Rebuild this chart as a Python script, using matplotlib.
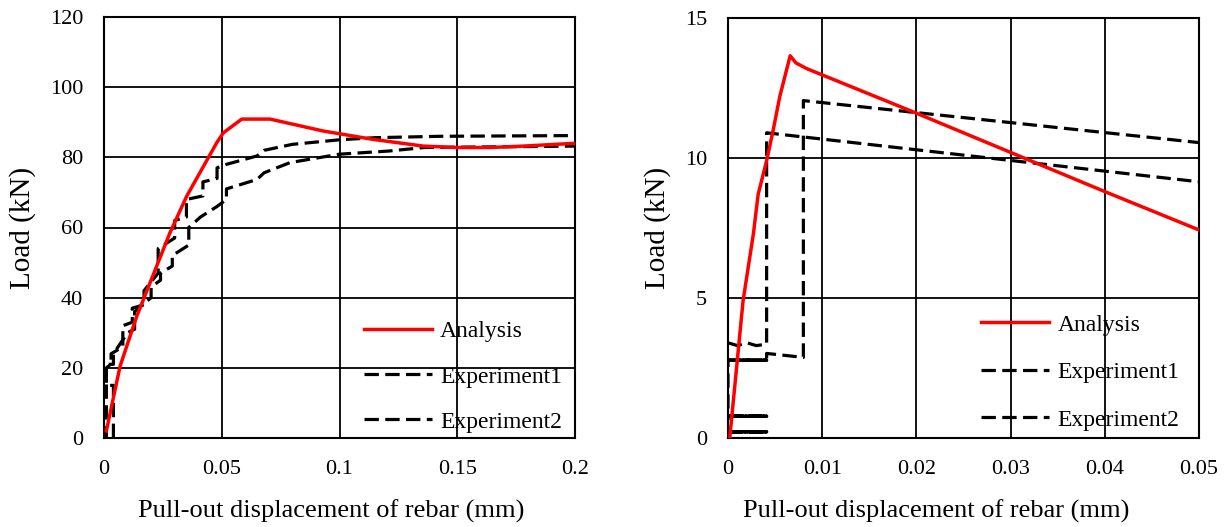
#!/usr/bin/env python3
import matplotlib
matplotlib.use('Agg')
import matplotlib.pyplot as plt

plt.rcParams['font.family'] = ['Liberation Serif', 'DejaVu Serif']

# left: pull-out test, load up to ~90 kN
ana_x1 = [0.001, 0.0068, 0.0139, 0.028, 0.0351, 0.0479, 0.0507, 0.0585, 0.0705,
          0.0931, 0.1144, 0.1356, 0.1498, 0.164, 0.178, 0.2]
ana_y1 = [2, 20.4, 34.7, 58.5, 68.9, 84.2, 87, 90.9, 90.9,
          87.5, 85.1, 83.2, 82.8, 82.8, 83.2, 84]

exp1_x1 = [0, 0.001, 0.001, 0.003, 0.003, 0.008, 0.008, 0.012, 0.012, 0.017, 0.017,
           0.023, 0.023, 0.030, 0.030, 0.035, 0.035, 0.042, 0.042, 0.048, 0.048,
           0.052, 0.065, 0.068, 0.08, 0.10, 0.115, 0.143, 0.2]
exp1_y1 = [0, 0, 20, 21, 24, 26, 32, 33, 37, 38, 42,
           47, 54, 57, 62, 63, 68, 69, 73, 74, 77,
           78, 80.4, 82, 83.7, 85, 85.6, 86, 86.2]

exp2_x1 = [0.004, 0.004, 0.001, 0.001, 0.004, 0.004, 0.010, 0.013, 0.013, 0.020,
           0.020, 0.024, 0.024, 0.029, 0.029, 0.036, 0.036, 0.041, 0.048, 0.052,
           0.052, 0.065, 0.068, 0.079, 0.100, 0.121, 0.136, 0.2]
exp2_y1 = [0, 15, 15, 21, 21, 24, 30, 31, 36, 40,
           43, 45, 47, 49, 52, 55, 60, 63, 66, 68,
           71, 73.7, 75.6, 78.5, 80.9, 81.8, 82.8, 83.2]

# right: load up to ~14 kN
ana_x2 = [0.0002, 0.0016, 0.0027, 0.0032, 0.0041, 0.0048, 0.0055, 0.0066, 0.0072,
          0.0083, 0.020, 0.030, 0.040, 0.05]
ana_y2 = [0.05, 4.9, 7.3, 8.7, 9.9, 11.0, 12.2, 13.65, 13.4,
          13.2, 11.6, 10.2, 8.8, 7.43]

exp1_x2 = [0, 0.0041, 0, 0.0041, 0, 0, 0.0041, 0, 0.0041, 0, 0, 0.0041, 0, 0.0041,
           0.0041, 0.008, 0.008, 0.05]
exp1_y2 = [0.22, 0.22, 0.22, 0.22, 0.22, 0.78, 0.78, 0.78, 0.78, 0.78, 2.78, 2.78, 2.78, 2.78,
           3.02, 2.88, 12.05, 10.55]

exp2_x2 = [0, 0.001, 0.002, 0.003, 0.0041, 0.0041, 0.05]
exp2_y2 = [3.4, 3.3, 3.4, 3.3, 3.35, 10.9, 9.15]

fig = plt.figure(figsize=(12.27, 5.27), dpi=100)
ax1 = fig.add_axes([104 / 1227, 1 - 438 / 527, 471 / 1227, 421 / 527])
ax2 = fig.add_axes([728 / 1227, 1 - 438 / 527, 471 / 1227, 420 / 527])

dash = (4.5, 2)


def style(ax, xlim, ylim, xt, yt, xlabels, label_x):
    ax.set_xlim(xlim)
    ax.set_ylim(ylim)
    ax.set_xticks(xt)
    ax.set_xticklabels(xlabels)
    ax.set_yticks(yt)
    ax.grid(True, color='black', lw=1.3)
    ax.set_axisbelow(True)
    ax.tick_params(length=0, labelsize=16, pad=15)
    ax.tick_params(axis='x', pad=16)
    for s in ax.spines.values():
        s.set_linewidth(1.5)
    ax.set_xlabel('Pull-out displacement of rebar (mm)', fontsize=19, labelpad=15, x=label_x)
    ax.set_ylabel('Load (kN)', fontsize=21, labelpad=10)


for ax, ax_, ay_, e1x, e1y, e2x, e2y in [
        (ax1, ana_x1, ana_y1, exp1_x1, exp1_y1, exp2_x1, exp2_y1),
        (ax2, ana_x2, ana_y2, exp1_x2, exp1_y2, exp2_x2, exp2_y2)]:
    ax.plot(ax_, ay_, color='red', lw=2.5, label='Analysis', zorder=4)
    ax.plot(e1x, e1y, color='black', lw=2.3, ls='--', dashes=dash, label='Experiment1', zorder=3)
    ax.plot(e2x, e2y, color='black', lw=2.3, ls='--', dashes=dash, label='Experiment2', zorder=3)

style(ax1, (0, 0.2), (0, 120), [0, 0.05, 0.1, 0.15, 0.2], range(0, 121, 20),
      ['0', '0.05', '0.1', '0.15', '0.2'], 0.482)
style(ax2, (0, 0.05), (0, 15), [0, 0.01, 0.02, 0.03, 0.04, 0.05], [0, 5, 10, 15],
      ['0', '0.01', '0.02', '0.03', '0.04', '0.05'], 0.441)

for ax, bx, by, sp in ((ax1, 1.003, -0.021, 1.0), (ax2, 0.989, -0.016, 1.1)):
    ax.legend(loc='lower right', bbox_to_anchor=(bx, by), frameon=False, fontsize=17,
              handlelength=2.9, handletextpad=0.35, labelspacing=sp, borderaxespad=0.2)

fig.savefig('out.png', dpi=100)
